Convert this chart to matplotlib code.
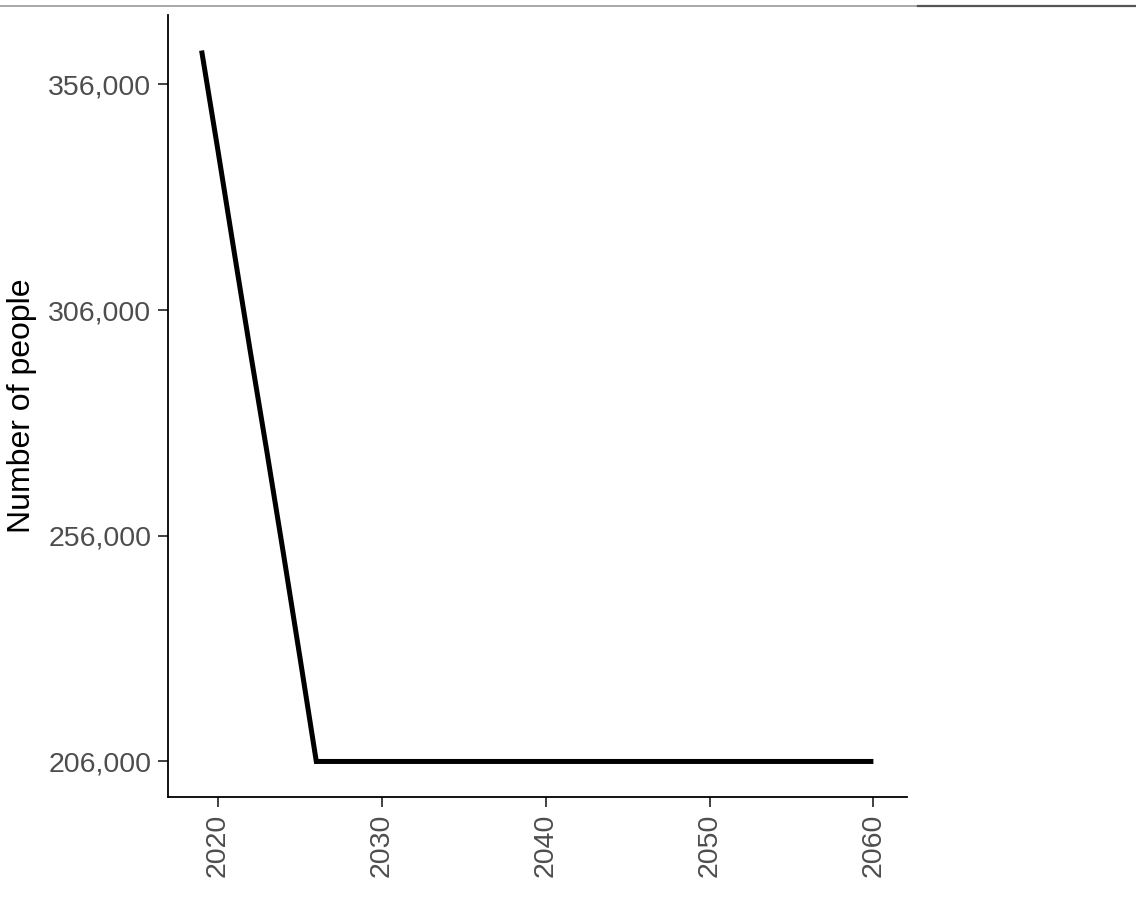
import matplotlib.pyplot as plt
from matplotlib.lines import Line2D
from matplotlib.ticker import FuncFormatter

years = [2019, 2020, 2021, 2022, 2023, 2024, 2025, 2026, 2030, 2040, 2050, 2060]
people = [363500, 341300, 318600, 296200, 274300, 251900, 229100, 206000,
          206000, 206000, 206000, 206000]
y_breaks = [206000, 256000, 306000, 356000]
x_breaks = [2020, 2030, 2040, 2050, 2060]

plt.rcParams['font.family'] = ['Liberation Sans', 'DejaVu Sans']

fig = plt.figure(figsize=(11.36, 9.14), dpi=100)
ax = fig.add_axes([0.1479, 0.128, 0.6505, 0.8556])

ax.plot(years, people, color='black', lw=3.6, solid_joinstyle='miter',
        solid_capstyle='butt')

# ggplot-like 5% expansion
xr = max(years) - min(years)
yr = max(people) - min(people)
ax.set_xlim(min(years) - 0.05 * xr, max(years) + 0.05 * xr)
ax.set_ylim(min(people) - 0.05 * yr, max(people) + 0.05 * yr)

ax.set_xticks(x_breaks)
ax.set_yticks(y_breaks)
ax.yaxis.set_major_formatter(FuncFormatter(lambda v, p: f'{int(v):,}'))
ax.tick_params(axis='both', length=7, width=1.3, color='#333333',
               labelcolor='#4D4D4D', labelsize=20.5, pad=5)
ax.tick_params(axis='x', labelrotation=90)
ax.set_ylabel('Number of people', fontsize=23, color='black', labelpad=8)

for s in ['top', 'right']:
    ax.spines[s].set_visible(False)
for s in ['left', 'bottom']:
    ax.spines[s].set_linewidth(1.3)
    ax.spines[s].set_color('black')

# thin rule at the top of the image
fig.add_artist(Line2D([0, 918 / 1136], [1 - 5.5 / 914] * 2,
                      color='#999999', lw=1.2, transform=fig.transFigure))
fig.add_artist(Line2D([918 / 1136, 1], [1 - 6 / 914] * 2,
                      color='#555555', lw=1.6, transform=fig.transFigure))

fig.savefig('out.png', dpi=100)
